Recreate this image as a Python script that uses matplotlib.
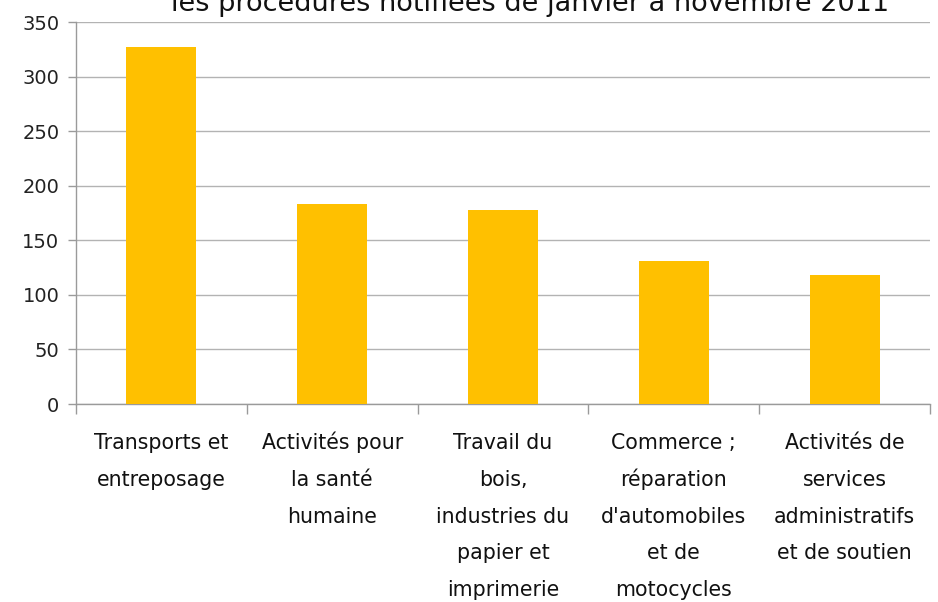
import matplotlib
matplotlib.use("Agg")
import matplotlib.pyplot as plt
import numpy as np

categories = [
    "Transports et\nentreposage",
    "Activités pour\nla santé\nhumaine",
    "Travail du\nbois,\nindustries du\npapier et\nimprimerie",
    "Commerce ;\nréparation\nd'automobiles\net de\nmotocycles",
    "Activités de\nservices\nadministratifs\net de soutien",
]
values = [327, 183, 178, 131, 118]
yticks = [0, 50, 100, 150, 200, 250, 300, 350]
title = "les procédures notifiées de janvier à novembre 2011"

plt.rcParams['font.family'] = ['DejaVu Sans']

DPI = 100
fig = plt.figure(figsize=(9.38, 6.02), dpi=DPI)
ax = fig.add_axes([76/938, 1-404/602, (930-76)/938, (404-22)/602])

x = np.arange(len(categories))
ax.bar(x, values, width=0.41, color="#FFC000", zorder=3)

ax.set_xlim(-0.5, len(categories)-0.5)
ax.set_ylim(0, 350)
ax.set_yticks(yticks)
ax.set_yticklabels([str(v) for v in yticks], fontsize=14, color="#222222")
ax.yaxis.grid(True, color="#B3B3B3", linewidth=1, zorder=0)
ax.tick_params(axis='y', length=6, width=1, color="#9A9A9A", pad=6)

ax.set_xticks(np.arange(-0.5, len(categories), 1.0))
ax.set_xticklabels([])
ax.tick_params(axis='x', length=7, width=1, color="#9A9A9A")

px2pt = 72.0 / DPI
first_baseline_px = 45
line_step_px = 36.8
for xi, lab in zip(x, categories):
    for i, line in enumerate(lab.split("\n")):
        off = (first_baseline_px + i * line_step_px) * px2pt
        ax.annotate(line, xy=(xi, 0), xycoords=('data', 'axes fraction'),
                    xytext=(0, -off), textcoords='offset points',
                    ha='center', va='baseline', fontsize=14.8,
                    color="#111111", annotation_clip=False)

for s in ['top', 'right']:
    ax.spines[s].set_visible(False)
for s in ['left', 'bottom']:
    ax.spines[s].set_color("#9A9A9A")
    ax.spines[s].set_linewidth(1)

fig.text(530/938, 1-11/602, title, ha='center', va='baseline', fontsize=19.5,
         color="#111111")

fig.savefig("out.png", dpi=DPI)
